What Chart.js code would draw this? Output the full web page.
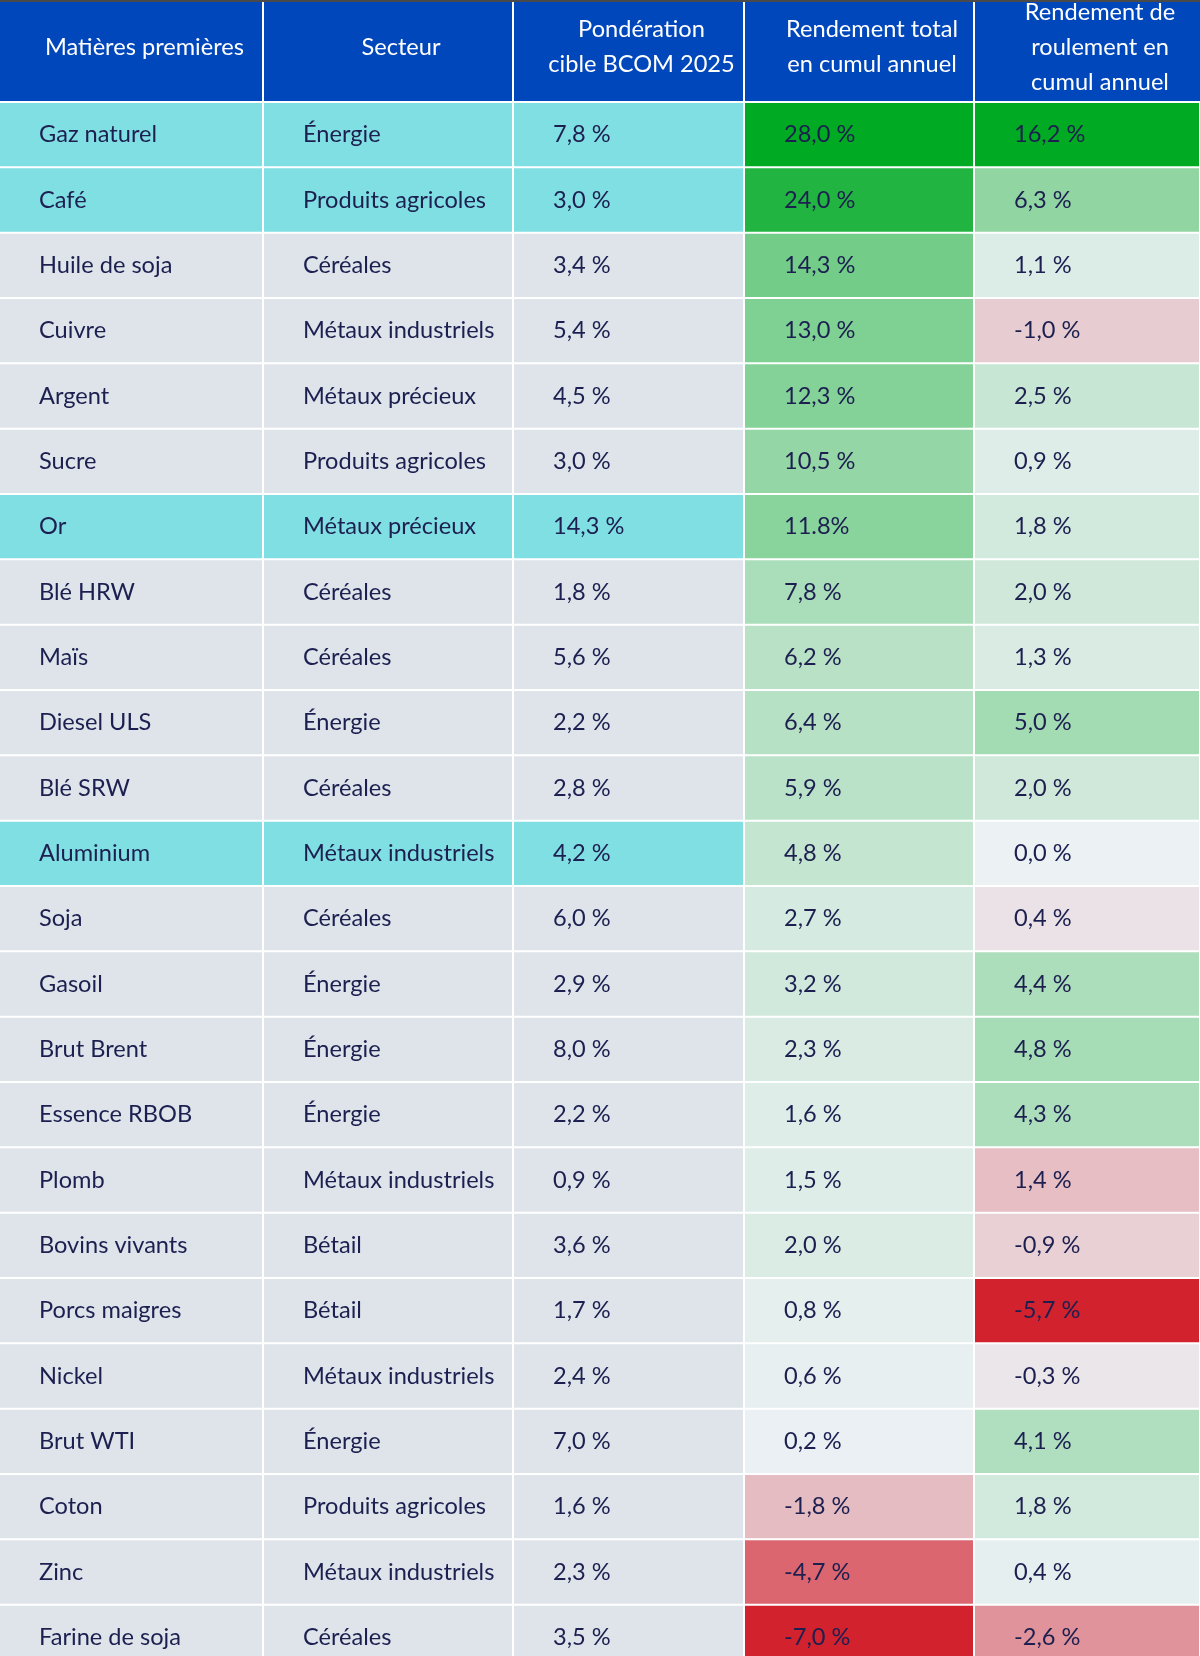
<!DOCTYPE html>
<html>
<head>
  <meta charset="utf-8">
  <title>BCOM 2025 - rendements en cumul annuel</title>
  <script src="https://cdn.jsdelivr.net/npm/chart.js@4.4.1/dist/chart.umd.min.js"></script>
  <style>
    html, body { margin: 0; padding: 0; background: #ffffff; overflow: hidden; }
    #table { display: block; }
  </style>
</head>
<body>
  <canvas id="table" width="1200" height="1670"></canvas>

  <script>
    // rows, top to bottom
    const commodities = ['Gaz naturel', 'Café', 'Huile de soja', 'Cuivre', 'Argent', 'Sucre', 'Or', 'Blé HRW',
      'Maïs', 'Diesel ULS', 'Blé SRW', 'Aluminium', 'Soja', 'Gasoil', 'Brut Brent', 'Essence RBOB', 'Plomb',
      'Bovins vivants', 'Porcs maigres', 'Nickel', 'Brut WTI', 'Coton', 'Zinc', 'Farine de soja'];
    const sectors = ['Énergie', 'Produits agricoles', 'Céréales', 'Métaux industriels', 'Métaux précieux',
      'Produits agricoles', 'Métaux précieux', 'Céréales', 'Céréales', 'Énergie', 'Céréales', 'Métaux industriels',
      'Céréales', 'Énergie', 'Énergie', 'Énergie', 'Métaux industriels', 'Bétail', 'Bétail', 'Métaux industriels',
      'Énergie', 'Produits agricoles', 'Métaux industriels', 'Céréales'];
    const weights = [7.8, 3.0, 3.4, 5.4, 4.5, 3.0, 14.3, 1.8, 5.6, 2.2, 2.8, 4.2, 6.0, 2.9, 8.0, 2.2, 0.9, 3.6,
      1.7, 2.4, 7.0, 1.6, 2.3, 3.5];
    const totalReturn = [28.0, 24.0, 14.3, 13.0, 12.3, 10.5, 11.8, 7.8, 6.2, 6.4, 5.9, 4.8, 2.7, 3.2, 2.3, 1.6,
      1.5, 2.0, 0.8, 0.6, 0.2, -1.8, -4.7, -7.0];
    const rollReturn = [16.2, 6.3, 1.1, -1.0, 2.5, 0.9, 1.8, 2.0, 1.3, 5.0, 2.0, 0.0, 0.4, 4.4, 4.8, 4.3, 1.4,
      -0.9, -5.7, -0.3, 4.1, 1.8, 0.4, -2.6];

    // rows shown with the turquoise highlight
    const highlighted = ['Gaz naturel', 'Café', 'Or', 'Aluminium'];
    // the source shades these roll cells red although the printed figure has no minus sign
    const rollShadedNegative = ['Soja', 'Plomb'];
    // the source prints this one cell differently
    const totalLabelOverride = { 'Or': '11.8%' };

    const headers = [
      ['Matières premières'],
      ['Secteur'],
      ['Pondération', 'cible BCOM 2025'],
      ['Rendement total', 'en cumul annuel'],
      ['Rendement de', 'roulement en', 'cumul annuel']
    ];

    // layout
    const columnEdges = [0, 263, 513, 744, 974, 1200];
    const headerTop = 2;
    const headerBottom = 101;
    const cellGap = 1;
    const textPad = 39;
    const FONT = '"Lato", "Noto Sans", sans-serif';
    const FONT_SIZE = 23.6;

    const NAVY = '#1c1f4f';
    const GREY = '#dee4ea';
    const TEAL = '#80dfe3';
    const NEUTRAL = [236, 241, 244];
    const GREEN = [0, 170, 34];
    const RED = [210, 34, 46];

    const fmt = v => v.toFixed(1).replace('.', ',') + ' %';

    function mix(a, b, t) {
      return 'rgb(' + a.map((c, i) => Math.round(c + (b[i] - c) * t)).join(',') + ')';
    }

    // diverging shade: neutral at 0, full colour at the column's max / min
    function shades(values, negRows) {
      const signed = values.map((v, i) => negRows.includes(commodities[i]) ? -Math.abs(v) : v);
      const max = Math.max(...signed);
      const min = Math.min(...signed);
      return signed.map(v => {
        if (v >= 0) return mix(NEUTRAL, GREEN, max ? v / max : 0);
        return mix(NEUTRAL, RED, v / min);
      });
    }

    const plainColours = commodities.map(c => highlighted.includes(c) ? TEAL : GREY);

    const columns = [
      { text: commodities, colours: plainColours },
      { text: sectors, colours: plainColours },
      { text: weights.map(fmt), colours: plainColours },
      { text: totalReturn.map((v, i) => totalLabelOverride[commodities[i]] || fmt(v)), colours: shades(totalReturn, []) },
      { text: rollReturn.map(fmt), colours: shades(rollReturn, rollShadedNegative) }
    ];

    const datasets = columns.map((col, c) => ({
      label: headers[c].join(' '),
      data: commodities.map(() => [columnEdges[c] + (c ? cellGap : 0), columnEdges[c + 1] - cellGap]),
      backgroundColor: col.colours,
      borderWidth: 0,
      grouped: false,
      barPercentage: 0.97,
      categoryPercentage: 1
    }));

    const cellText = {
      id: 'cellText',
      afterDatasetsDraw(chart) {
        const ctx = chart.ctx;
        ctx.save();
        ctx.font = FONT_SIZE + 'px ' + FONT;
        ctx.fillStyle = NAVY;
        ctx.textBaseline = 'middle';
        ctx.textAlign = 'left';
        chart.data.datasets.forEach((ds, c) => {
          chart.getDatasetMeta(c).data.forEach((bar, r) => {
            const p = bar.getProps(['x', 'y', 'base'], true);
            const left = c === 0 ? 0 : Math.min(p.x, p.base);
            ctx.fillText(columns[c].text[r], left + textPad, p.y);
          });
        });
        ctx.restore();
      }
    };

    const headerRow = {
      id: 'headerRow',
      beforeDatasetsDraw(chart) {
        const ctx = chart.ctx;
        const xs = chart.scales.x;
        ctx.save();
        ctx.fillStyle = '#4a4a4a';
        ctx.fillRect(0, 0, chart.width, headerTop);
        ctx.fillStyle = '#0047bb';
        ctx.fillRect(0, headerTop, chart.width, headerBottom - headerTop);
        ctx.fillStyle = '#ffffff';
        for (let c = 1; c < columnEdges.length - 1; c++) {
          const x = xs.getPixelForValue(columnEdges[c]);
          ctx.fillRect(x - 1, headerTop, 2, headerBottom - headerTop);
        }
        ctx.font = FONT_SIZE + 'px ' + FONT;
        ctx.textAlign = 'center';
        ctx.textBaseline = 'middle';
        const midY = 47;
        const lineH = 35;
        headers.forEach((lines, c) => {
          const cx = (xs.getPixelForValue(columnEdges[c]) + xs.getPixelForValue(columnEdges[c + 1])) / 2 + 13;
          lines.forEach((line, k) => {
            ctx.fillText(line, cx, midY + (k - (lines.length - 1) / 2) * lineH);
          });
        });
        ctx.restore();
      }
    };

    new Chart(document.getElementById('table'), {
      type: 'bar',
      data: { labels: commodities, datasets: datasets },
      options: {
        indexAxis: 'y',
        responsive: false,
        animation: false,
        devicePixelRatio: 1,
        layout: { padding: { top: headerBottom + 1, left: 0, right: 0, bottom: 0 } },
        scales: {
          x: { type: 'linear', min: 0, max: 1200, display: false },
          y: { type: 'category', display: false, offset: true }
        },
        plugins: {
          legend: { display: false },
          tooltip: { enabled: false }
        }
      },
      plugins: [headerRow, cellText]
    });
  </script>
</body>
</html>
